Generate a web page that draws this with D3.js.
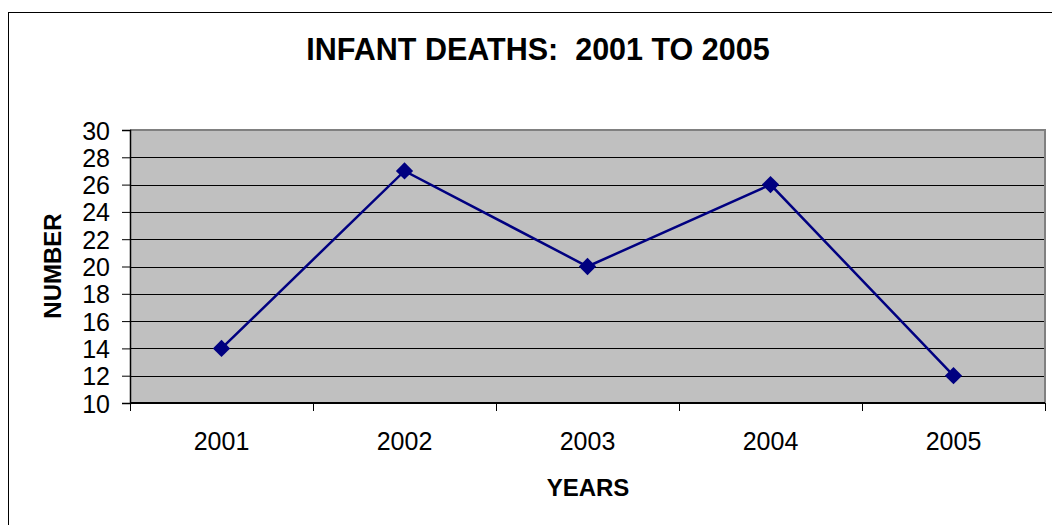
<!DOCTYPE html>
<html>
<head>
<meta charset="utf-8">
<script src="https://cdn.jsdelivr.net/npm/d3@7/dist/d3.min.js"></script>
<style>
  html, body { margin: 0; padding: 0; background: #fff; }
  svg { display: block; }
  text { font-family: Arial, "Liberation Sans", sans-serif; fill: #000; }
</style>
</head>
<body>
<svg id="chart" width="1052" height="525"></svg>
<script>
const years = ["2001", "2002", "2003", "2004", "2005"];
const deaths = [14, 27, 20, 26, 12];
const yTicks = [10, 12, 14, 16, 18, 20, 22, 24, 26, 28, 30];
const titleText = "INFANT DEATHS:  2001 TO 2005";
const xTitle = "YEARS";
const yTitle = "NUMBER";

const svg = d3.select("#chart");
const plot = { left: 130, top: 130, right: 1045, bottom: 403 };

// outer chart border (extends beyond the window on right/bottom)
svg.append("rect")
  .attr("x", 8.5).attr("y", 12.5)
  .attr("width", 1060).attr("height", 540)
  .attr("fill", "#fff").attr("stroke", "#000").attr("stroke-width", 1);

const x = d3.scaleBand().domain(years).range([plot.left, plot.right]).padding(0);
const y = d3.scaleLinear().domain([10, 30]).range([plot.bottom, plot.top]);

// plot area
svg.append("rect")
  .attr("x", plot.left).attr("y", plot.top)
  .attr("width", plot.right - plot.left).attr("height", plot.bottom - plot.top)
  .attr("fill", "#c0c0c0");

// gridlines
svg.append("g").selectAll("line")
  .data(yTicks.filter(t => t > 10 && t < 30))
  .join("line")
  .attr("x1", plot.left).attr("x2", plot.right)
  .attr("y1", d => Math.round(y(d)) + 0.5).attr("y2", d => Math.round(y(d)) + 0.5)
  .attr("stroke", "#000").attr("stroke-width", 1);

// plot border top/right (gray)
svg.append("path")
  .attr("d", `M${plot.left},${plot.top} H${plot.right} V${plot.bottom}`)
  .attr("fill", "none").attr("stroke", "#808080").attr("stroke-width", 2);

// y axis
const yAxis = d3.axisLeft(y).tickValues(yTicks).tickSize(8).tickPadding(12);
const gy = svg.append("g").attr("transform", `translate(${plot.left},0)`).call(yAxis);
gy.select(".domain").attr("stroke", "#000").attr("stroke-width", 1.5);
gy.selectAll(".tick line").attr("stroke", "#000");
gy.selectAll(".tick text")
  .attr("font-size", 25).attr("font-family", "Arial, 'Liberation Sans', sans-serif")
  .attr("fill", "#000").attr("dy", "0.36em");

// x axis: ticks at category boundaries
const gx = svg.append("g").attr("transform", `translate(0,${plot.bottom})`);
gx.append("line")
  .attr("x1", plot.left).attr("x2", plot.right)
  .attr("stroke", "#000").attr("stroke-width", 2);
const bounds = years.map(d => x(d)).concat([x(years[years.length - 1]) + x.bandwidth()]);
gx.selectAll("line.tk").data(bounds).join("line").attr("class", "tk")
  .attr("x1", d => Math.round(d) + 0.5).attr("x2", d => Math.round(d) + 0.5)
  .attr("y1", 0).attr("y2", 8)
  .attr("stroke", "#000").attr("stroke-width", 1);
gx.selectAll("text").data(years).join("text")
  .attr("x", d => x(d) + x.bandwidth() / 2)
  .attr("y", 47)
  .attr("text-anchor", "middle")
  .attr("font-size", 25)
  .text(d => d);

// line
const pts = years.map((yr, i) => ({ yr, v: deaths[i] }));
const line = d3.line().x(d => x(d.yr) + x.bandwidth() / 2).y(d => y(d.v));
svg.append("path").datum(pts)
  .attr("d", line)
  .attr("fill", "none").attr("stroke", "#000080").attr("stroke-width", 2.5);

// markers
const sym = d3.symbol().type(d3.symbolDiamond2).size(190);
svg.append("g").selectAll("path").data(pts).join("path")
  .attr("transform", d => `translate(${x(d.yr) + x.bandwidth() / 2},${y(d.v)})`)
  .attr("d", sym)
  .attr("fill", "#000080");

// title
svg.append("text")
  .attr("x", 538).attr("y", 60)
  .attr("text-anchor", "middle")
  .attr("font-size", 30.5).attr("font-weight", "bold")
  .style("white-space", "pre")
  .attr("xml:space", "preserve")
  .text(titleText);

// axis titles
svg.append("text")
  .attr("x", 588).attr("y", 496)
  .attr("text-anchor", "middle")
  .attr("font-size", 24).attr("font-weight", "bold")
  .text(xTitle);

svg.append("text")
  .attr("transform", "translate(61,266) rotate(-90)")
  .attr("text-anchor", "middle")
  .attr("font-size", 24).attr("font-weight", "bold")
  .text(yTitle);
</script>
</body>
</html>
